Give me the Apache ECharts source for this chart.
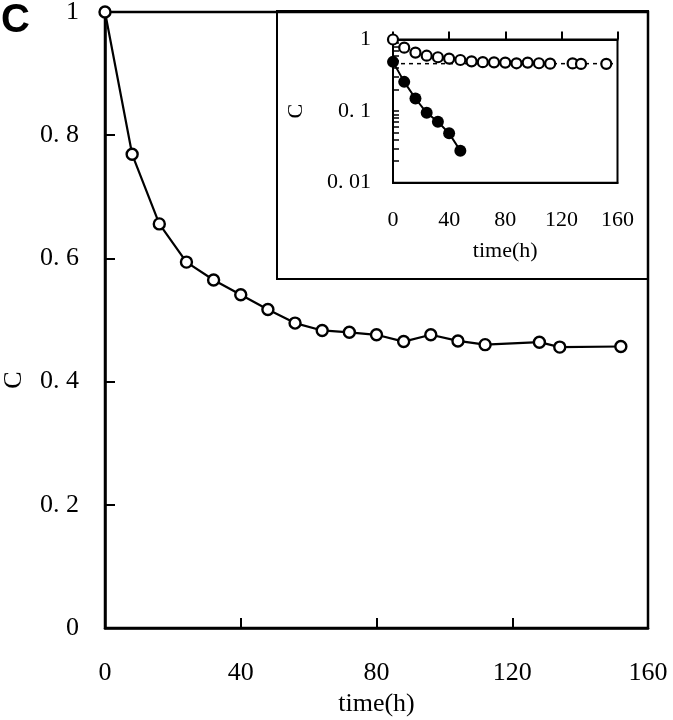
<!DOCTYPE html>
<html>
<head>
<meta charset="utf-8">
<script src="https://cdn.jsdelivr.net/npm/echarts@6/dist/echarts.min.js"></script>
<style>
  html, body { margin: 0; padding: 0; background: #fff; }
  #chart { width: 673px; height: 720px; }
</style>
</head>
<body>
<div id="chart"></div>
<script>
// ---- data ----
const mainTime = [0, 8, 16, 24, 32, 40, 48, 56, 64, 72, 80, 88, 96, 104, 112, 128, 134, 152];
const mainC = [1.0, 0.769, 0.656, 0.594, 0.565, 0.541, 0.517, 0.495, 0.483, 0.480, 0.476, 0.465, 0.476, 0.466, 0.460, 0.464, 0.456, 0.457];
const filledTime = [0, 8, 16, 24, 32, 40, 48];
const filledC = [0.487, 0.256, 0.150, 0.0946, 0.0709, 0.0489, 0.0279];
const plateauTime = [0, 160];
const plateauC = [0.46, 0.46];
const xTicks = [0, 40, 80, 120, 160];
const mainYTicks = [0, 0.2, 0.4, 0.6, 0.8, 1];
const insetYLabels = [0.01, 0.1, 1];
const insetYTicks = [0.01, 0.02, 0.03, 0.04, 0.05, 0.06, 0.07, 0.08, 0.09, 0.1, 0.2, 0.3, 0.4, 0.5, 0.6, 0.7, 0.8, 0.9, 1];

const pairs = (xs, ys) => xs.map((x, i) => [x, ys[i]]);
const fmt = v => String(+v.toPrecision(6)).replace('.', '. ');
const SERIF = '"Liberation Serif", "DejaVu Serif", serif';

const chart = echarts.init(document.getElementById('chart'), null, { renderer: 'canvas' });
chart.setOption({
  animation: false,
  backgroundColor: '#fff',
  title: {
    text: 'C', left: 1, top: 1, padding: 0,
    textStyle: { fontFamily: '"Liberation Sans", Arial, sans-serif', fontWeight: 'bold', fontSize: 40, color: '#000' }
  },
  graphic: [{
    type: 'rect', z: 1,
    shape: { x: 277, y: 11, width: 371, height: 268 },
    style: { fill: null, stroke: '#000', lineWidth: 2 }
  }],
  grid: [
    { left: 105, top: 12, right: 25, bottom: 92, show: true, borderColor: '#000', borderWidth: 2.5, backgroundColor: 'transparent', containLabel: false, outerBoundsMode: 'none' },
    { left: 393, top: 39.5, right: 55.5, bottom: 537.3, show: true, borderColor: '#000', borderWidth: 2, backgroundColor: 'transparent', containLabel: false, outerBoundsMode: 'none' }
  ],
  xAxis: [
    {
      gridIndex: 0, type: 'value', min: xTicks[0], max: xTicks[xTicks.length - 1], interval: 40,
      name: 'time(h)', nameLocation: 'middle', nameGap: 60,
      nameTextStyle: { fontFamily: SERIF, fontSize: 26, color: '#000' },
      axisLine: { show: true, lineStyle: { color: '#000', width: 2.5 } },
      axisTick: { show: true, inside: true, length: 10, lineStyle: { color: '#000', width: 2 } },
      axisLabel: { margin: 32, fontFamily: SERIF, fontSize: 26, color: '#000' },
      splitLine: { show: false }
    },
    {
      gridIndex: 1, type: 'value', min: xTicks[0], max: xTicks[xTicks.length - 1], interval: 40,
      name: 'time(h)', nameLocation: 'middle', nameGap: 58,
      nameTextStyle: { fontFamily: SERIF, fontSize: 22, color: '#000' },
      axisLine: { show: true, lineStyle: { color: '#000', width: 2 } },
      axisTick: { show: false },
      axisLabel: { margin: 27, fontFamily: SERIF, fontSize: 22, color: '#000' },
      splitLine: { show: false }
    },
    {
      gridIndex: 1, type: 'value', position: 'top', min: xTicks[0], max: xTicks[xTicks.length - 1], interval: 40,
      axisLine: { show: true, lineStyle: { color: '#000', width: 2 } },
      axisTick: { show: true, inside: false, length: 8, lineStyle: { color: '#000', width: 2 } },
      axisLabel: { show: false },
      splitLine: { show: false }
    }
  ],
  yAxis: [
    {
      gridIndex: 0, type: 'value', min: 0, max: 1, interval: 0.2,
      name: 'C', nameLocation: 'middle', nameGap: 78, nameRotate: 90,
      nameTextStyle: { fontFamily: SERIF, fontSize: 26, color: '#000', padding: [0, 120, 0, 0] },
      axisLine: { show: true, lineStyle: { color: '#000', width: 2.5 } },
      axisTick: { show: true, inside: true, length: 10, lineStyle: { color: '#000', width: 2 } },
      axisLabel: { margin: 26, fontFamily: SERIF, fontSize: 26, color: '#000', formatter: fmt },
      splitLine: { show: false }
    },
    {
      gridIndex: 1, type: 'log', logBase: 10, min: 0.01, max: 1,
      name: 'C', nameLocation: 'middle', nameGap: 86, nameRotate: 90,
      nameTextStyle: { fontFamily: SERIF, fontSize: 22, color: '#000' },
      axisLine: { show: true, lineStyle: { color: '#000', width: 2 } },
      axisTick: { show: true, inside: true, length: 6, lineStyle: { color: '#000', width: 1.5 }, customValues: insetYTicks },
      axisLabel: { margin: 22, fontFamily: SERIF, fontSize: 22, color: '#000', formatter: fmt, customValues: insetYLabels },
      splitLine: { show: false }
    }
  ],
  series: [
    {
      type: 'line', xAxisIndex: 0, yAxisIndex: 0, data: pairs(mainTime, mainC),
      symbol: 'circle', symbolSize: 11, showAllSymbol: true,
      itemStyle: { color: '#fff', borderColor: '#000', borderWidth: 2.4 },
      lineStyle: { color: '#000', width: 2.2 }
    },
    {
      type: 'line', xAxisIndex: 1, yAxisIndex: 1, data: pairs(plateauTime, plateauC),
      symbol: 'none', lineStyle: { color: '#000', width: 1.5, type: [4, 4] }, z: 1
    },
    {
      type: 'line', xAxisIndex: 1, yAxisIndex: 1, data: pairs(filledTime, filledC),
      symbol: 'circle', symbolSize: 12, showAllSymbol: true,
      itemStyle: { color: '#000', borderColor: '#000', borderWidth: 0 },
      lineStyle: { color: '#000', width: 2 }
    },
    {
      type: 'scatter', xAxisIndex: 1, yAxisIndex: 1, data: pairs(mainTime, mainC),
      symbol: 'circle', symbolSize: 10,
      itemStyle: { color: '#fff', borderColor: '#000', borderWidth: 2.2, opacity: 1 }
    }
  ]
});
</script>
</body>
</html>
